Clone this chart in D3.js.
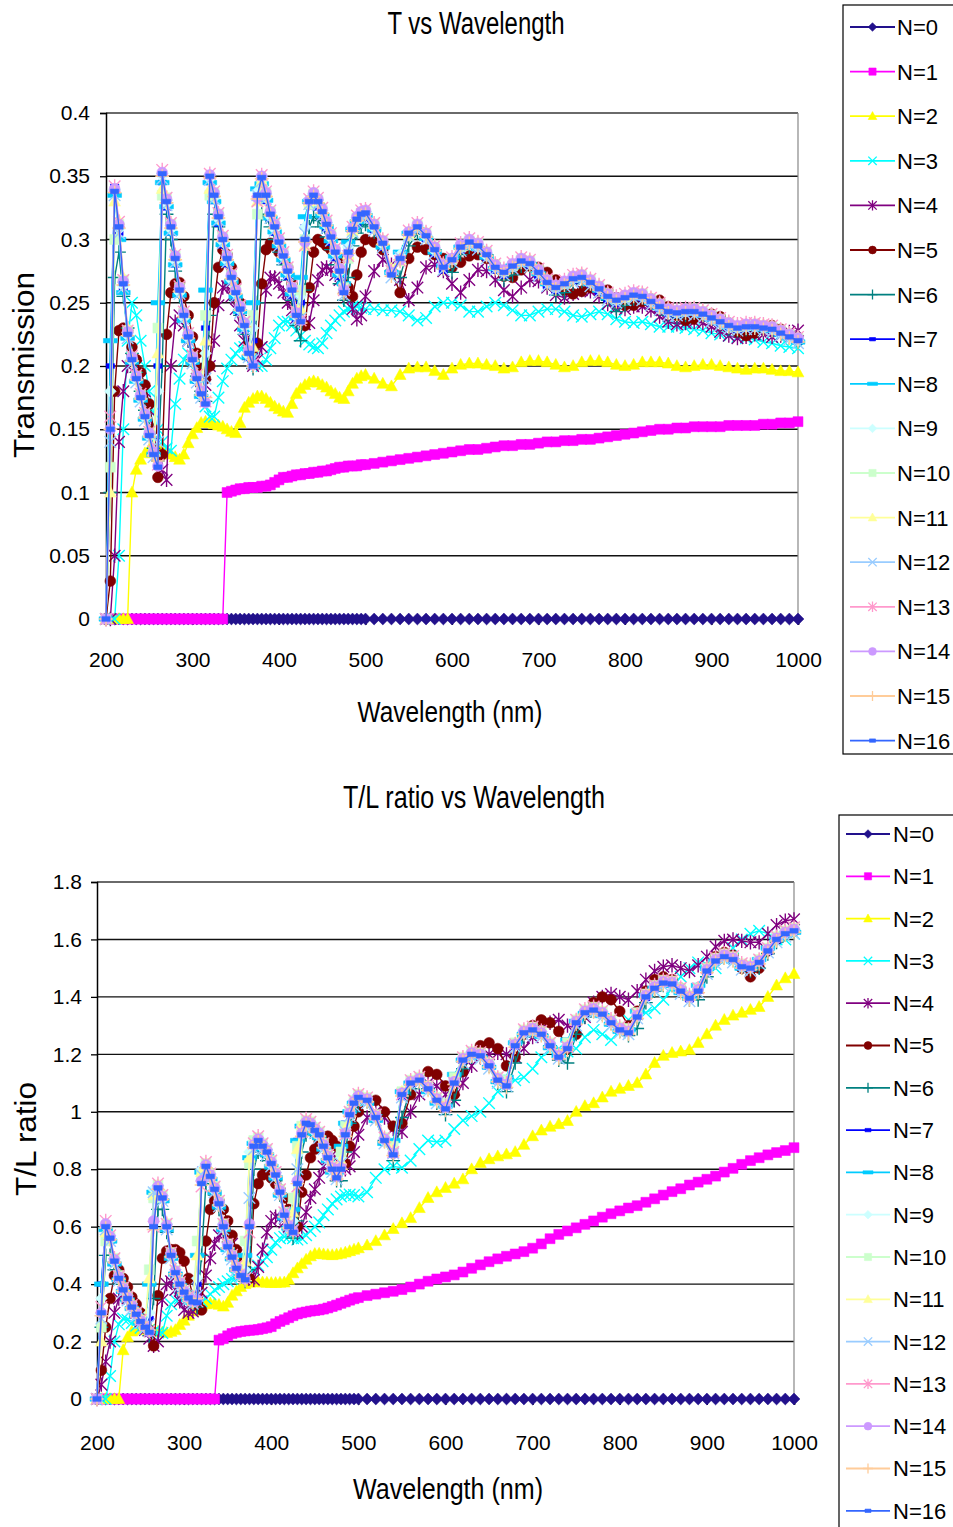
<!DOCTYPE html>
<html><head><meta charset="utf-8">
<script src="https://cdn.jsdelivr.net/npm/d3@7/dist/d3.min.js"></script>
<style>body{margin:0;background:#fff}svg{display:block}text{font-family:"Liberation Sans",Arial,sans-serif;fill:#000}</style>
</head><body>
<svg id="c" width="953" height="1527"></svg>
<script>
// ---------------- DATA ----------------
const wavelength = [200,205,210,215,220,225,230,235,240,245,250,255,260,265,270,275,280,285,290,295,
300,305,310,315,320,325,330,335,340,345,350,355,360,365,370,375,380,385,390,395,
400,405,410,415,420,425,430,435,440,445,450,455,460,465,470,475,480,485,490,495,
500,510,520,530,540,550,560,570,580,590,600,610,620,630,640,650,660,670,680,690,
700,710,720,730,740,750,760,770,780,790,800,810,820,830,840,850,860,870,880,890,
900,910,920,930,940,950,960,970,980,990,1000];
const seriesNames = ["N=0","N=1","N=2","N=3","N=4","N=5","N=6","N=7","N=8","N=9","N=10","N=11","N=12","N=13","N=14","N=15","N=16"];
const xTicks = [200,300,400,500,600,700,800,900,1000];
const yTicksT = [0,0.05,0.1,0.15,0.2,0.25,0.3,0.35,0.4];
const yLabelsT = ["0","0.05","0.1","0.15","0.2","0.25","0.3","0.35","0.4"];
const yTicksR = [0,0.2,0.4,0.6,0.8,1,1.2,1.4,1.6,1.8];
const yLabelsR = ["0","0.2","0.4","0.6","0.8","1","1.2","1.4","1.6","1.8"];

// Transmission
const T_N0 = [0,0,0,0,0,0,0,0,0,0,0,0,0,0,0,0,0,0,0,0,0,0,0,0,0,0,0,0,0,0,0,0,0,0,0,0,0,0,0,0,0,0,0,0,0,0,0,0,0,0,0,0,0,0,0,0,0,0,0,0,
0,0,0,0,0,0,0,0,0,0,0,0,0,0,0,0,0,0,0,0,0,0,0,0,0,0,0,0,0,0,0,0,0,0,0,0,0,0,0,0,0,0,0,0,0,0,0,0,0,0,0];
const T_N1 = [0,0,0,0,0,0,0,0,0,0, 0,0,0,0,0,0,0,0,0,0, 0,0,0,0,0,0,0,0,0.100,0.101,
0.102,0.103,0.103,0.104,0.104,0.104,0.105,0.105,0.106,0.108, 0.110,0.112,0.112,0.113,0.114,0.114,0.115,0.115,0.116,0.116,
0.117,0.117,0.118,0.119,0.120,0.120,0.121,0.121,0.121,0.122,
0.122,0.123,0.124,0.125,0.126,0.127,0.128,0.129,0.130,0.131, 0.132,0.133,0.134,0.134,0.135,0.136,0.137,0.137,0.138,0.138,
0.139,0.140,0.140,0.141,0.141,0.142,0.142,0.143,0.144,0.145, 0.146,0.147,0.148,0.149,0.150,0.150,0.151,0.151,0.152,0.152,
0.152,0.152,0.153,0.153,0.153,0.153,0.154,0.154,0.155,0.155,0.156];
const T_N2 = [0,0,0,0,0,0,0.100,0.118,0.126,0.131, 0.134,0.136,0.135,0.134,0.132,0.130,0.128,0.126,0.130,0.139,
0.146,0.151,0.155,0.156,0.155,0.154,0.153,0.152,0.150,0.148, 0.147,0.155,0.167,0.171,0.174,0.176,0.176,0.174,0.171,0.168,
0.166,0.164,0.163,0.170,0.178,0.182,0.185,0.187,0.188,0.187, 0.185,0.183,0.180,0.178,0.175,0.174,0.180,0.186,0.190,0.192,
0.193,0.190,0.186,0.184,0.193,0.198,0.199,0.199,0.196,0.193, 0.198,0.201,0.202,0.202,0.201,0.200,0.198,0.199,0.203,0.204,
0.204,0.203,0.201,0.199,0.200,0.203,0.204,0.204,0.203,0.201, 0.200,0.201,0.203,0.203,0.203,0.202,0.200,0.199,0.200,0.201,
0.201,0.200,0.199,0.198,0.197,0.198,0.198,0.197,0.196,0.196,0.195];
const T_N3 = [0,0,0,0.05,0.15,0.22,0.25,0.24,0.22,0.20, 0.18,0.163,0.15,0.14,0.135,0.133,0.17,0.19,0.205,0.21,
0.205,0.195,0.18,0.168,0.16,0.16,0.175,0.188,0.198,0.205, 0.21,0.214,0.215,0.212,0.207,0.2,0.2,0.205,0.214,0.222,
0.232,0.235,0.235,0.232,0.228,0.224,0.22,0.217,0.215,0.214, 0.218,0.226,0.232,0.236,0.24,0.243,0.245,0.247,0.247,0.246,
0.245,0.245,0.244,0.244,0.243,0.24,0.236,0.238,0.247,0.25, 0.25,0.248,0.243,0.243,0.247,0.25,0.248,0.244,0.24,0.24,
0.243,0.245,0.245,0.243,0.24,0.239,0.241,0.243,0.241,0.237, 0.235,0.234,0.235,0.233,0.231,0.231,0.231,0.23,0.229,0.228,
0.226,0.225,0.224,0.223,0.222,0.221,0.219,0.218,0.216,0.215,0.214];
const T_N4 = [0,0,0.05,0.14,0.18,0.2,0.205,0.2,0.19,0.18, 0.165,0.145,0.13,0.118,0.11,0.2,0.235,0.24,0.232,0.22,
0.208,0.198,0.188,0.185,0.2,0.22,0.248,0.262,0.263,0.255, 0.245,0.232,0.22,0.21,0.2,0.205,0.215,0.26,0.27,0.27,
0.265,0.258,0.25,0.244,0.238,0.235,0.233,0.234,0.252,0.268, 0.276,0.278,0.276,0.272,0.268,0.262,0.255,0.245,0.237,0.24,
0.255,0.275,0.284,0.28,0.268,0.252,0.262,0.278,0.28,0.275, 0.265,0.258,0.268,0.276,0.275,0.268,0.26,0.255,0.262,0.268,
0.267,0.262,0.256,0.254,0.257,0.26,0.259,0.255,0.249,0.246, 0.245,0.247,0.247,0.244,0.239,0.235,0.233,0.234,0.235,0.234,
0.231,0.227,0.224,0.222,0.223,0.225,0.225,0.223,0.224,0.227,0.228];
const T_N5 = [0,0.03,0.18,0.228,0.23,0.228,0.215,0.205,0.195,0.185, 0.17,0.15,0.112,0.13,0.225,0.258,0.265,0.266,0.255,0.24,
0.223,0.21,0.198,0.19,0.2,0.25,0.278,0.292,0.288,0.278, 0.266,0.25,0.232,0.218,0.214,0.218,0.265,0.292,0.297,0.295,
0.29,0.285,0.278,0.265,0.25,0.236,0.232,0.262,0.29,0.3, 0.298,0.295,0.292,0.288,0.285,0.275,0.262,0.255,0.272,0.29,
0.30,0.298,0.292,0.275,0.258,0.285,0.294,0.292,0.288,0.285, 0.278,0.282,0.287,0.288,0.285,0.28,0.271,0.27,0.276,0.279,
0.278,0.274,0.268,0.26,0.257,0.259,0.262,0.262,0.26,0.254, 0.248,0.248,0.251,0.253,0.252,0.247,0.24,0.236,0.237,0.24,
0.241,0.239,0.234,0.227,0.224,0.226,0.23,0.232,0.229,0.225,0.22];
const T_N6 = [0,0.1,0.27,0.29,0.255,0.23,0.21,0.195,0.18,0.165, 0.15,0.135,0.125,0.2,0.32,0.3,0.275,0.255,0.235,0.22,
0.205,0.192,0.18,0.172,0.24,0.32,0.31,0.295,0.28,0.265, 0.252,0.24,0.225,0.205,0.198,0.25,0.32,0.318,0.31,0.3,
0.29,0.28,0.268,0.252,0.232,0.22,0.26,0.31,0.318,0.315, 0.31,0.302,0.292,0.28,0.265,0.252,0.27,0.295,0.305,0.31,
0.312,0.306,0.295,0.275,0.27,0.295,0.305,0.302,0.292,0.277, 0.274,0.288,0.294,0.293,0.288,0.278,0.268,0.272,0.279,0.279,
0.274,0.265,0.256,0.258,0.265,0.267,0.265,0.26,0.252,0.243, 0.248,0.253,0.254,0.25,0.245,0.24,0.238,0.24,0.242,0.24,
0.237,0.233,0.229,0.228,0.229,0.23,0.229,0.228,0.225,0.222,0.219];
const T_N7 = [0,0.2,0.342,0.305,0.26,0.225,0.205,0.19,0.175,0.16, 0.145,0.132,0.2,0.345,0.325,0.305,0.28,0.258,0.238,0.22,
0.203,0.188,0.176,0.23,0.345,0.33,0.312,0.295,0.28,0.266, 0.254,0.242,0.228,0.206,0.22,0.338,0.342,0.33,0.316,0.305,
0.294,0.283,0.27,0.255,0.236,0.25,0.31,0.326,0.328,0.325, 0.318,0.308,0.297,0.285,0.27,0.262,0.292,0.305,0.312,0.316,
0.317,0.307,0.293,0.274,0.282,0.302,0.307,0.3,0.288,0.275, 0.282,0.291,0.295,0.292,0.285,0.275,0.271,0.277,0.281,0.279,
0.271,0.263,0.259,0.263,0.267,0.268,0.264,0.258,0.252,0.249, 0.252,0.254,0.253,0.249,0.245,0.241,0.24,0.241,0.242,0.24,
0.237,0.233,0.23,0.228,0.229,0.23,0.229,0.228,0.225,0.222,0.219];
const T_N8 = [0,0.22,0.335,0.3,0.258,0.222,0.203,0.188,0.173,0.158, 0.143,0.13,0.25,0.345,0.326,0.305,0.28,0.256,0.236,0.22,
0.203,0.188,0.176,0.26,0.345,0.33,0.313,0.296,0.281,0.267, 0.255,0.243,0.229,0.207,0.25,0.34,0.344,0.331,0.317,0.306,
0.295,0.284,0.272,0.257,0.238,0.27,0.318,0.33,0.331,0.327, 0.319,0.31,0.299,0.287,0.272,0.265,0.298,0.308,0.314,0.318,
0.319,0.308,0.294,0.274,0.29,0.305,0.308,0.301,0.29,0.279, 0.286,0.294,0.296,0.293,0.286,0.277,0.274,0.279,0.282,0.28,
0.273,0.265,0.262,0.265,0.268,0.269,0.265,0.26,0.254,0.252, 0.254,0.255,0.254,0.25,0.246,0.243,0.242,0.243,0.242,0.24,
0.237,0.234,0.231,0.23,0.23,0.23,0.229,0.228,0.225,0.222,0.219];
const T_N9 = [0,0.18,0.34,0.308,0.263,0.224,0.204,0.189,0.174,0.159, 0.144,0.13,0.18,0.35,0.328,0.308,0.283,0.258,0.238,0.222,
0.204,0.189,0.177,0.21,0.348,0.333,0.316,0.298,0.283,0.268, 0.257,0.244,0.231,0.208,0.23,0.338,0.347,0.333,0.318,0.308,
0.297,0.286,0.274,0.259,0.239,0.255,0.31,0.332,0.334,0.329, 0.321,0.311,0.301,0.289,0.274,0.261,0.294,0.309,0.316,0.32,
0.32,0.309,0.296,0.273,0.288,0.306,0.31,0.302,0.291,0.279, 0.285,0.294,0.297,0.294,0.287,0.278,0.274,0.279,0.283,0.281,
0.274,0.266,0.262,0.265,0.269,0.27,0.266,0.261,0.255,0.252, 0.254,0.256,0.255,0.251,0.247,0.243,0.242,0.243,0.243,0.241,
0.238,0.235,0.232,0.23,0.231,0.231,0.23,0.229,0.226,0.223,0.22];
const T_N10 = [0,0.12,0.3,0.312,0.268,0.228,0.207,0.192,0.177,0.162, 0.147,0.132,0.23,0.335,0.333,0.312,0.287,0.262,0.242,0.225,
0.207,0.192,0.18,0.24,0.335,0.337,0.32,0.302,0.287,0.272, 0.26,0.247,0.234,0.212,0.24,0.32,0.345,0.337,0.322,0.312,
0.3,0.289,0.277,0.262,0.243,0.26,0.3,0.328,0.336,0.331, 0.323,0.314,0.304,0.292,0.277,0.262,0.285,0.306,0.317,0.321,
0.322,0.312,0.299,0.276,0.283,0.303,0.311,0.305,0.294,0.28, 0.284,0.294,0.299,0.297,0.29,0.28,0.275,0.279,0.284,0.283,
0.276,0.268,0.263,0.265,0.27,0.272,0.268,0.263,0.257,0.253, 0.254,0.257,0.257,0.253,0.249,0.245,0.243,0.244,0.245,0.243,
0.24,0.237,0.234,0.231,0.232,0.233,0.232,0.231,0.228,0.225,0.222];
const T_N11 = [0,0.1,0.33,0.315,0.27,0.23,0.208,0.193,0.178,0.163, 0.148,0.133,0.21,0.34,0.334,0.313,0.288,0.263,0.243,0.226,
0.208,0.193,0.181,0.22,0.34,0.338,0.321,0.303,0.288,0.273, 0.261,0.248,0.235,0.213,0.215,0.33,0.346,0.338,0.323,0.313,
0.301,0.29,0.278,0.263,0.244,0.245,0.295,0.33,0.337,0.332, 0.324,0.315,0.305,0.293,0.278,0.262,0.288,0.307,0.318,0.322,
0.323,0.313,0.3,0.277,0.284,0.304,0.312,0.306,0.295,0.281, 0.285,0.295,0.3,0.298,0.291,0.281,0.276,0.28,0.285,0.284,
0.277,0.269,0.264,0.266,0.271,0.273,0.269,0.264,0.258,0.254, 0.255,0.258,0.258,0.254,0.25,0.246,0.244,0.245,0.246,0.244,
0.241,0.238,0.235,0.232,0.233,0.234,0.233,0.232,0.229,0.226,0.223];
const T_N12 = [0,0.14,0.335,0.305,0.262,0.222,0.202,0.187,0.172,0.157, 0.142,0.128,0.14,0.348,0.327,0.307,0.282,0.257,0.237,0.22,
0.202,0.187,0.175,0.19,0.347,0.332,0.315,0.297,0.282,0.267, 0.255,0.242,0.229,0.207,0.205,0.335,0.346,0.332,0.317,0.307,
0.295,0.284,0.272,0.257,0.237,0.238,0.305,0.328,0.332,0.327, 0.319,0.309,0.299,0.287,0.272,0.256,0.292,0.306,0.313,0.317,
0.318,0.307,0.294,0.27,0.286,0.303,0.307,0.3,0.289,0.276, 0.282,0.291,0.295,0.292,0.285,0.276,0.272,0.277,0.28,0.278,
0.271,0.263,0.26,0.263,0.266,0.267,0.263,0.258,0.252,0.25, 0.252,0.253,0.252,0.248,0.244,0.24,0.24,0.241,0.24,0.238,
0.235,0.232,0.229,0.228,0.229,0.229,0.228,0.227,0.224,0.221,0.218];
const T_N13 = [0,0.16,0.342,0.314,0.268,0.228,0.208,0.193,0.178,0.163, 0.148,0.133,0.122,0.355,0.333,0.313,0.288,0.263,0.243,0.226,
0.208,0.193,0.181,0.172,0.352,0.338,0.321,0.303,0.288,0.273, 0.261,0.248,0.235,0.213,0.202,0.33,0.351,0.338,0.323,0.313,
0.301,0.29,0.278,0.263,0.243,0.236,0.295,0.332,0.338,0.333, 0.325,0.315,0.305,0.293,0.278,0.26,0.287,0.31,0.319,0.323,
0.324,0.313,0.3,0.275,0.283,0.307,0.313,0.306,0.295,0.281, 0.286,0.297,0.301,0.298,0.291,0.281,0.277,0.282,0.286,0.284,
0.277,0.269,0.265,0.268,0.272,0.273,0.269,0.264,0.258,0.255, 0.257,0.259,0.258,0.254,0.25,0.246,0.245,0.246,0.246,0.244,
0.241,0.238,0.235,0.233,0.234,0.234,0.233,0.232,0.229,0.226,0.223];
const T_N14 = [0,0.15,0.34,0.312,0.267,0.227,0.207,0.192,0.177,0.162, 0.147,0.132,0.121,0.353,0.332,0.312,0.287,0.262,0.242,0.225,
0.207,0.192,0.18,0.171,0.351,0.337,0.32,0.302,0.287,0.272, 0.26,0.247,0.234,0.212,0.201,0.333,0.35,0.337,0.322,0.312,
0.3,0.289,0.277,0.262,0.242,0.236,0.298,0.331,0.337,0.332, 0.324,0.314,0.304,0.292,0.277,0.26,0.289,0.309,0.318,0.322,
0.323,0.312,0.299,0.274,0.284,0.306,0.312,0.305,0.294,0.28, 0.285,0.296,0.3,0.297,0.29,0.28,0.276,0.281,0.285,0.283,
0.276,0.268,0.264,0.267,0.271,0.272,0.268,0.263,0.257,0.254, 0.256,0.258,0.257,0.253,0.249,0.245,0.244,0.245,0.245,0.243,
0.24,0.237,0.234,0.232,0.233,0.233,0.232,0.231,0.228,0.225,0.222];
const T_N15 = [0,0.15,0.337,0.309,0.264,0.224,0.204,0.189,0.174,0.159, 0.144,0.129,0.125,0.35,0.329,0.309,0.284,0.259,0.239,0.222,
0.204,0.189,0.177,0.175,0.349,0.334,0.317,0.299,0.284,0.269, 0.257,0.244,0.231,0.209,0.2,0.332,0.348,0.334,0.319,0.309,
0.297,0.286,0.274,0.259,0.239,0.234,0.298,0.329,0.334,0.329, 0.321,0.311,0.301,0.289,0.274,0.257,0.289,0.307,0.315,0.319,
0.32,0.309,0.296,0.271,0.284,0.304,0.309,0.302,0.291,0.277, 0.283,0.293,0.297,0.294,0.287,0.277,0.273,0.278,0.282,0.28,
0.273,0.265,0.261,0.264,0.268,0.269,0.265,0.26,0.254,0.251, 0.253,0.255,0.254,0.25,0.246,0.242,0.241,0.242,0.242,0.24,
0.237,0.234,0.231,0.229,0.23,0.23,0.229,0.228,0.225,0.222,0.219];
const T_N16 = [0,0.15,0.338,0.31,0.265,0.225,0.205,0.19,0.175,0.16, 0.145,0.13,0.12,0.352,0.33,0.31,0.285,0.26,0.24,0.223,
0.205,0.19,0.178,0.17,0.35,0.335,0.318,0.3,0.285,0.27, 0.258,0.245,0.232,0.21,0.2,0.335,0.349,0.335,0.32,0.31,
0.298,0.287,0.275,0.26,0.24,0.235,0.3,0.33,0.335,0.33, 0.322,0.312,0.302,0.29,0.275,0.258,0.29,0.308,0.316,0.32,
0.321,0.31,0.297,0.272,0.285,0.305,0.31,0.303,0.292,0.278, 0.284,0.294,0.298,0.295,0.288,0.278,0.274,0.279,0.283,0.281,
0.274,0.266,0.262,0.265,0.269,0.27,0.266,0.261,0.255,0.252, 0.254,0.256,0.255,0.251,0.247,0.243,0.242,0.243,0.243,0.241,
0.238,0.235,0.232,0.23,0.231,0.231,0.23,0.229,0.226,0.223,0.22];

// T/L ratio
const TL_N0 = [0,0,0,0,0,0,0,0,0,0,0,0,0,0,0,0,0,0,0,0,0,0,0,0,0,0,0,0,0,0,0,0,0,0,0,0,0,0,0,0,0,0,0,0,0,0,0,0,0,0,0,0,0,0,0,0,0,0,0,0,
0,0,0,0,0,0,0,0,0,0,0,0,0,0,0,0,0,0,0,0,0,0,0,0,0,0,0,0,0,0,0,0,0,0,0,0,0,0,0,0,0,0,0,0,0,0,0,0,0,0,0];
const TL_N1 = [0,0,0,0,0,0,0,0,0,0, 0,0,0,0,0,0,0,0,0,0, 0,0,0,0,0,0,0,0,0.205,0.21,
0.22,0.228,0.232,0.235,0.237,0.239,0.24,0.242,0.245,0.248, 0.252,0.262,0.27,0.276,0.283,0.29,0.296,0.3,0.303,0.306,
0.308,0.31,0.313,0.317,0.322,0.327,0.333,0.338,0.344,0.349,
0.353,0.36,0.365,0.37,0.375,0.381,0.39,0.4,0.41,0.418, 0.425,0.432,0.442,0.455,0.467,0.478,0.488,0.497,0.505,0.513,
0.525,0.54,0.558,0.573,0.585,0.596,0.608,0.62,0.633,0.645, 0.655,0.665,0.673,0.685,0.697,0.71,0.722,0.732,0.745,0.755,
0.765,0.776,0.79,0.803,0.817,0.83,0.84,0.85,0.858,0.865,0.875];
const TL_N2 = [0,0,0,0,0,0,0.17,0.215,0.235,0.24, 0.242,0.242,0.24,0.238,0.235,0.232,0.23,0.234,0.24,0.258,
0.273,0.29,0.305,0.318,0.325,0.33,0.333,0.332,0.328,0.322, 0.335,0.36,0.375,0.39,0.4,0.405,0.407,0.407,0.406,0.405,
0.404,0.404,0.405,0.406,0.415,0.438,0.455,0.47,0.485,0.497, 0.505,0.506,0.504,0.502,0.501,0.503,0.506,0.51,0.515,0.52,
0.525,0.535,0.55,0.57,0.592,0.612,0.63,0.665,0.7,0.72, 0.735,0.75,0.765,0.8,0.822,0.835,0.845,0.852,0.86,0.885,
0.915,0.935,0.948,0.957,0.968,1.0,1.02,1.03,1.05,1.07, 1.08,1.09,1.1,1.13,1.17,1.195,1.205,1.21,1.215,1.24,
1.27,1.3,1.32,1.335,1.345,1.355,1.365,1.4,1.44,1.465,1.48];
const TL_N3 = [0,0,0,0.08,0.2,0.26,0.28,0.275,0.265,0.255, 0.248,0.243,0.24,0.235,0.232,0.23,0.29,0.33,0.345,0.35,
0.35,0.345,0.34,0.338,0.34,0.35,0.365,0.38,0.39,0.4, 0.41,0.418,0.424,0.43,0.435,0.44,0.45,0.465,0.48,0.494,
0.52,0.545,0.56,0.565,0.565,0.56,0.555,0.56,0.57,0.585, 0.6,0.615,0.64,0.66,0.68,0.695,0.705,0.71,0.712,0.71,
0.705,0.72,0.77,0.8,0.81,0.805,0.83,0.87,0.9,0.895, 0.9,0.94,0.97,0.985,1.0,1.03,1.07,1.1,1.11,1.12,
1.15,1.19,1.215,1.22,1.21,1.22,1.26,1.285,1.27,1.25, 1.28,1.32,1.34,1.345,1.36,1.39,1.43,1.47,1.5,1.52,
1.51,1.5,1.53,1.57,1.6,1.62,1.63,1.62,1.6,1.6,1.62];
const TL_N4 = [0,0.05,0.13,0.2,0.3,0.35,0.36,0.35,0.33,0.3, 0.27,0.24,0.21,0.185,0.2,0.345,0.4,0.41,0.38,0.34,
0.31,0.3,0.305,0.318,0.37,0.43,0.49,0.54,0.57,0.58, 0.565,0.54,0.5,0.46,0.435,0.42,0.415,0.46,0.52,0.58,
0.62,0.635,0.63,0.615,0.6,0.585,0.578,0.6,0.65,0.7, 0.73,0.77,0.81,0.835,0.85,0.84,0.82,0.8,0.81,0.86,
0.92,0.98,1.0,0.98,0.94,0.93,1.0,1.06,1.1,1.09, 1.06,1.04,1.1,1.16,1.19,1.2,1.205,1.2,1.19,1.22,
1.26,1.29,1.31,1.32,1.3,1.29,1.33,1.38,1.4,1.41, 1.4,1.39,1.42,1.46,1.49,1.505,1.51,1.5,1.49,1.51,
1.54,1.575,1.595,1.6,1.595,1.59,1.59,1.62,1.65,1.665,1.67];
const TL_N5 = [0,0.1,0.25,0.35,0.43,0.45,0.42,0.39,0.355,0.33, 0.3,0.27,0.24,0.185,0.36,0.49,0.515,0.52,0.52,0.51,
0.48,0.42,0.36,0.33,0.31,0.55,0.66,0.69,0.69,0.66, 0.62,0.57,0.52,0.48,0.455,0.42,0.68,0.75,0.78,0.785,
0.77,0.75,0.73,0.7,0.66,0.63,0.6,0.72,0.78,0.84, 0.87,0.895,0.91,0.915,0.9,0.88,0.84,0.82,0.88,0.95,
1.0,1.04,1.04,1.0,0.95,0.96,1.06,1.11,1.14,1.13, 1.09,1.06,1.14,1.2,1.23,1.24,1.22,1.16,1.19,1.27,
1.3,1.32,1.31,1.28,1.22,1.27,1.34,1.38,1.4,1.39, 1.35,1.3,1.35,1.42,1.46,1.47,1.46,1.43,1.4,1.43,
1.5,1.54,1.555,1.545,1.5,1.47,1.5,1.56,1.6,1.62,1.63];
const TL_N6 = [0,0.25,0.5,0.5,0.45,0.4,0.37,0.345,0.315,0.29, 0.265,0.245,0.22,0.35,0.66,0.66,0.58,0.5,0.44,0.395,
0.365,0.345,0.33,0.32,0.5,0.75,0.75,0.71,0.66,0.59, 0.52,0.485,0.45,0.425,0.41,0.45,0.8,0.86,0.85,0.83,
0.8,0.76,0.71,0.64,0.59,0.56,0.62,0.86,0.92,0.93, 0.92,0.905,0.875,0.835,0.795,0.76,0.76,0.86,0.96,1.0,
1.03,1.035,0.99,0.9,0.83,0.98,1.08,1.1,1.08,1.03, 0.99,1.04,1.15,1.19,1.19,1.16,1.1,1.07,1.17,1.26,
1.28,1.27,1.23,1.18,1.17,1.27,1.33,1.35,1.34,1.31, 1.28,1.265,1.29,1.38,1.42,1.44,1.44,1.42,1.39,1.39,
1.47,1.52,1.535,1.53,1.5,1.49,1.5,1.55,1.59,1.615,1.625];
const TL_N7 = [0,0.4,0.61,0.55,0.47,0.415,0.375,0.347,0.318,0.292, 0.268,0.248,0.28,0.7,0.725,0.69,0.59,0.495,0.435,0.397,
0.37,0.35,0.337,0.4,0.8,0.8,0.765,0.72,0.67,0.595, 0.525,0.49,0.452,0.428,0.45,0.82,0.89,0.89,0.87,0.85,
0.81,0.77,0.71,0.635,0.598,0.65,0.9,0.95,0.955,0.95, 0.93,0.915,0.875,0.835,0.795,0.78,0.86,0.96,1.0,1.03,
1.045,1.035,0.975,0.89,0.88,1.05,1.095,1.105,1.075,1.035, 1.02,1.1,1.175,1.195,1.19,1.155,1.105,1.1,1.225,1.27,
1.28,1.265,1.225,1.19,1.23,1.305,1.34,1.35,1.335,1.305, 1.28,1.28,1.33,1.395,1.425,1.443,1.44,1.415,1.39,1.42,
1.485,1.52,1.535,1.525,1.5,1.497,1.518,1.555,1.595,1.615,1.625];
const TL_N8 = [0,0.4,0.59,0.55,0.47,0.415,0.375,0.345,0.315,0.29, 0.265,0.245,0.4,0.72,0.72,0.69,0.59,0.49,0.435,0.395,
0.368,0.348,0.335,0.5,0.79,0.79,0.765,0.72,0.67,0.59, 0.52,0.488,0.45,0.425,0.5,0.84,0.89,0.89,0.87,0.85,
0.81,0.77,0.71,0.63,0.595,0.66,0.9,0.95,0.955,0.945, 0.925,0.91,0.87,0.83,0.79,0.79,0.88,0.96,1.0,1.03,
1.045,1.03,0.97,0.89,0.9,1.07,1.1,1.1,1.07,1.03, 1.02,1.13,1.18,1.195,1.19,1.155,1.105,1.12,1.24,1.27,
1.28,1.262,1.223,1.195,1.25,1.315,1.342,1.35,1.335,1.305, 1.28,1.285,1.35,1.405,1.43,1.445,1.44,1.415,1.395,1.44,
1.5,1.525,1.535,1.525,1.5,1.5,1.53,1.57,1.6,1.615,1.625];
const TL_N9 = [0,0.35,0.6,0.555,0.475,0.418,0.378,0.348,0.318,0.293, 0.268,0.248,0.3,0.73,0.73,0.695,0.595,0.495,0.438,0.398,
0.37,0.35,0.336,0.42,0.8,0.8,0.77,0.725,0.675,0.595, 0.525,0.49,0.452,0.428,0.45,0.86,0.895,0.895,0.875,0.855,
0.815,0.775,0.715,0.635,0.598,0.62,0.85,0.94,0.958,0.95, 0.93,0.915,0.875,0.835,0.795,0.78,0.84,0.94,0.995,1.03,
1.048,1.036,0.976,0.896,0.87,1.065,1.1,1.106,1.076,1.036, 1.015,1.11,1.18,1.198,1.192,1.158,1.108,1.1,1.235,1.273,
1.283,1.267,1.228,1.19,1.23,1.312,1.344,1.352,1.338,1.308, 1.283,1.278,1.34,1.402,1.43,1.447,1.443,1.418,1.394,1.43,
1.495,1.525,1.538,1.528,1.503,1.5,1.525,1.565,1.6,1.618,1.628];
const TL_N10 = [0,0.25,0.55,0.565,0.49,0.43,0.388,0.356,0.325,0.3, 0.275,0.254,0.45,0.7,0.745,0.71,0.61,0.51,0.448,0.406,
0.376,0.356,0.342,0.55,0.78,0.82,0.785,0.74,0.69,0.61, 0.54,0.5,0.46,0.436,0.55,0.82,0.9,0.91,0.89,0.87,
0.83,0.79,0.73,0.65,0.606,0.7,0.88,0.95,0.97,0.965, 0.945,0.93,0.89,0.85,0.81,0.79,0.86,0.95,1.0,1.04,
1.06,1.05,0.99,0.91,0.88,1.07,1.11,1.12,1.09,1.05, 1.03,1.12,1.19,1.21,1.205,1.17,1.12,1.11,1.24,1.285,
1.295,1.28,1.24,1.2,1.24,1.32,1.355,1.364,1.35,1.32, 1.295,1.29,1.345,1.41,1.44,1.458,1.455,1.43,1.405,1.43,
1.5,1.535,1.55,1.54,1.515,1.51,1.53,1.57,1.61,1.63,1.64];
const TL_N11 = [0,0.2,0.58,0.57,0.49,0.43,0.39,0.358,0.327,0.302, 0.277,0.256,0.42,0.71,0.745,0.71,0.61,0.51,0.45,0.408,
0.378,0.357,0.343,0.5,0.79,0.82,0.785,0.74,0.69,0.61, 0.54,0.503,0.463,0.437,0.48,0.84,0.895,0.91,0.89,0.87,
0.83,0.79,0.73,0.65,0.608,0.65,0.87,0.955,0.97,0.965, 0.945,0.93,0.89,0.85,0.81,0.785,0.83,0.94,1.0,1.04,
1.06,1.05,0.99,0.91,0.87,1.07,1.11,1.12,1.09,1.05, 1.02,1.11,1.19,1.21,1.205,1.17,1.12,1.1,1.24,1.285,
1.295,1.28,1.24,1.2,1.23,1.32,1.355,1.364,1.35,1.32, 1.295,1.285,1.34,1.41,1.44,1.458,1.455,1.43,1.405,1.43,
1.5,1.535,1.55,1.54,1.515,1.51,1.53,1.57,1.61,1.63,1.64];
const TL_N12 = [0,0.28,0.59,0.55,0.47,0.412,0.372,0.343,0.313,0.288, 0.264,0.244,0.26,0.72,0.725,0.69,0.59,0.49,0.432,0.393,
0.366,0.346,0.332,0.36,0.78,0.8,0.765,0.72,0.67,0.59, 0.522,0.486,0.448,0.424,0.42,0.7,0.87,0.89,0.87,0.85,
0.81,0.77,0.71,0.63,0.592,0.59,0.8,0.93,0.95,0.945, 0.925,0.91,0.87,0.83,0.79,0.765,0.82,0.93,0.985,1.02,
1.04,1.03,0.97,0.89,0.855,1.05,1.09,1.1,1.07,1.03, 1.005,1.1,1.17,1.19,1.185,1.15,1.1,1.09,1.225,1.265,
1.275,1.26,1.22,1.185,1.225,1.3,1.335,1.344,1.33,1.3, 1.275,1.27,1.325,1.39,1.42,1.438,1.435,1.41,1.385,1.415,
1.48,1.515,1.53,1.52,1.495,1.49,1.515,1.555,1.59,1.61,1.62];
const TL_N13 = [0,0.32,0.62,0.57,0.49,0.428,0.388,0.357,0.327,0.301, 0.276,0.255,0.236,0.6,0.75,0.71,0.61,0.51,0.448,0.407,
0.378,0.357,0.343,0.34,0.74,0.825,0.785,0.74,0.69,0.61, 0.54,0.502,0.462,0.437,0.421,0.58,0.89,0.915,0.89,0.87,
0.83,0.79,0.73,0.65,0.608,0.588,0.74,0.93,0.975,0.965, 0.945,0.93,0.89,0.85,0.81,0.78,0.8,0.92,1.0,1.04,
1.062,1.05,0.99,0.91,0.86,1.06,1.11,1.122,1.09,1.05, 1.02,1.1,1.19,1.212,1.207,1.17,1.12,1.1,1.235,1.287,
1.297,1.282,1.24,1.2,1.225,1.32,1.357,1.366,1.352,1.322, 1.297,1.287,1.34,1.41,1.442,1.46,1.457,1.432,1.407,1.43,
1.5,1.537,1.552,1.542,1.517,1.512,1.53,1.57,1.61,1.632,1.642];
const TL_N14 = [0,0.3,0.61,0.565,0.485,0.425,0.385,0.354,0.324,0.298, 0.273,0.253,0.234,0.62,0.74,0.705,0.605,0.505,0.445,0.404,
0.375,0.355,0.341,0.345,0.76,0.815,0.78,0.735,0.685,0.605, 0.535,0.498,0.459,0.434,0.418,0.61,0.885,0.905,0.885,0.865,
0.825,0.785,0.725,0.645,0.604,0.585,0.76,0.925,0.965,0.96, 0.94,0.925,0.885,0.845,0.805,0.775,0.805,0.925,0.995,1.035,
1.055,1.045,0.985,0.905,0.855,1.065,1.105,1.115,1.085,1.045, 1.015,1.105,1.185,1.205,1.2,1.165,1.115,1.095,1.235,1.28,
1.29,1.275,1.235,1.195,1.225,1.315,1.35,1.359,1.345,1.315, 1.29,1.28,1.335,1.405,1.435,1.453,1.45,1.425,1.4,1.425,
1.495,1.53,1.545,1.535,1.51,1.505,1.525,1.565,1.605,1.625,1.635];
const TL_N15 = [0,0.29,0.595,0.555,0.476,0.417,0.377,0.347,0.317,0.292, 0.267,0.247,0.24,0.59,0.73,0.695,0.595,0.495,0.436,0.397,
0.369,0.349,0.335,0.35,0.745,0.805,0.77,0.725,0.675,0.595, 0.526,0.49,0.451,0.427,0.412,0.6,0.875,0.895,0.875,0.855,
0.815,0.775,0.715,0.635,0.596,0.578,0.75,0.915,0.955,0.95, 0.93,0.915,0.875,0.835,0.795,0.766,0.8,0.915,0.985,1.025,
1.045,1.035,0.975,0.895,0.848,1.055,1.095,1.105,1.075,1.035, 1.005,1.095,1.175,1.195,1.19,1.155,1.105,1.085,1.225,1.27,
1.28,1.265,1.225,1.185,1.215,1.305,1.34,1.349,1.335,1.305, 1.28,1.27,1.325,1.395,1.425,1.443,1.44,1.415,1.39,1.415,
1.485,1.52,1.535,1.525,1.5,1.495,1.515,1.555,1.595,1.615,1.625];
const TL_N16 = [0,0.3,0.6,0.56,0.48,0.42,0.38,0.35,0.32,0.295, 0.27,0.25,0.232,0.6,0.735,0.7,0.6,0.5,0.44,0.4,
0.372,0.352,0.338,0.335,0.75,0.81,0.775,0.73,0.68,0.6, 0.53,0.494,0.455,0.43,0.415,0.6,0.88,0.9,0.88,0.86,
0.82,0.78,0.72,0.64,0.6,0.58,0.75,0.92,0.96,0.955, 0.935,0.92,0.88,0.84,0.8,0.77,0.8,0.92,0.99,1.03,
1.05,1.04,0.98,0.9,0.85,1.06,1.1,1.11,1.08,1.04, 1.01,1.1,1.18,1.2,1.195,1.16,1.11,1.09,1.23,1.275,
1.285,1.27,1.23,1.19,1.22,1.31,1.345,1.354,1.34,1.31, 1.285,1.275,1.33,1.4,1.43,1.448,1.445,1.42,1.395,1.42,
1.49,1.525,1.54,1.53,1.505,1.5,1.52,1.56,1.6,1.62,1.63];

// ---------------- STYLE ----------------
const colors = ["#22118c","#ff00ff","#ffff00","#00ffff","#800080","#800000","#008080","#0000ff","#00ccff",
"#ccffff","#ccffcc","#ffff99","#99ccff","#ff99cc","#cc99ff","#ffcc99","#3366ff"];
const markerTypes = ["diamond","square","triangle","x","star","circle","plus","dash","longdash",
"diamond","square","triangle","x","star","circle","plus","dash"];
const markerDefs = {
  diamond:{d:"M0,-4.3L4.3,0L0,4.3L-4.3,0Z",fill:true},
  square:{d:"M-3.6,-3.6h7.2v7.2h-7.2Z",fill:true},
  triangle:{d:"M0,-4.6L4.3,3.3L-4.3,3.3Z",fill:true},
  x:{d:"M-4.2,-4.2L4.2,4.2M-4.2,4.2L4.2,-4.2",fill:false},
  star:{d:"M-4.2,-4.2L4.2,4.2M-4.2,4.2L4.2,-4.2M0,-5.2V5.2",fill:false},
  circle:{d:"M3.9,0A3.9,3.9 0 1 1 -3.9,0A3.9,3.9 0 1 1 3.9,0Z",fill:true},
  plus:{d:"M0,-5V5M-5,0H5",fill:false},
  dash:{d:"M-3,-1.7h6v3.4h-6Z",fill:true},
  longdash:{d:"M-5,-1.6h10v3.2h-10Z",fill:true}
};

const svg = d3.select("#c");

function drawChart(cfg) {
  const x = d3.scaleLinear().domain([200,1000]).range([cfg.left,cfg.right]);
  const y = d3.scaleLinear().domain([0,cfg.ymax]).range([cfg.bottom,cfg.top]);
  const g = svg.append("g");

  g.append("g").selectAll("line").data(cfg.yTicks.filter(v=>v>0)).join("line")
    .attr("x1",cfg.left).attr("x2",cfg.right).attr("y1",d=>y(d)).attr("y2",d=>y(d))
    .attr("stroke","#111").attr("stroke-width",1.4);
  g.append("line").attr("x1",cfg.left).attr("x2",cfg.right).attr("y1",cfg.top).attr("y2",cfg.top)
    .attr("stroke","#888").attr("stroke-width",1.2);
  g.append("line").attr("x1",cfg.right).attr("x2",cfg.right).attr("y1",cfg.top).attr("y2",cfg.bottom)
    .attr("stroke","#888").attr("stroke-width",1.2);

  const yAxis = d3.axisLeft(y).tickValues(cfg.yTicks).tickFormat((d,i)=>cfg.yLabels[i]).tickSizeOuter(0).tickSize(6).tickPadding(cfg.yPad);
  const ya = g.append("g").attr("transform",`translate(${cfg.left},0)`).call(yAxis);
  const xAxis = d3.axisBottom(x).tickValues(xTicks).tickFormat(d3.format("d")).tickSizeOuter(0).tickSize(6).tickPadding(cfg.xPad);
  const xa = g.append("g").attr("transform",`translate(0,${cfg.bottom})`).call(xAxis);
  [ya,xa].forEach(a=>{
    a.select(".domain").attr("stroke","#000").attr("stroke-width",1.5);
    a.selectAll(".tick line").attr("stroke","#000").attr("stroke-width",1.3);
    a.selectAll("text").attr("font-family","Liberation Sans, Arial, sans-serif").attr("font-size",21).attr("fill","#000");
  });

  const line = d3.line().x((d,i)=>x(wavelength[i])).y(d=>y(d));
  const ms = 1.38; // plot marker scale
  cfg.data.forEach((vals,si)=>{
    const col = colors[si], m = markerDefs[markerTypes[si]];
    const sg = g.append("g");
    sg.append("path").datum(vals).attr("d",line).attr("fill","none").attr("stroke",col).attr("stroke-width",1.4);
    sg.selectAll("path.m").data(vals).join("path").attr("class","m")
      .attr("transform",(d,i)=>`translate(${x(wavelength[i]).toFixed(2)},${y(d).toFixed(2)}) scale(${ms})`)
      .attr("d",m.d)
      .attr("fill",m.fill?col:"none").attr("stroke",col).attr("stroke-width",m.fill?0.4:1.0);
  });

  g.append("text").attr("x",cfg.titleX).attr("y",cfg.titleY).attr("text-anchor","middle")
    .attr("font-size",31).attr("textLength",cfg.titleLen).attr("lengthAdjust","spacingAndGlyphs").text(cfg.title);
  g.append("text").attr("x",cfg.xTitleX).attr("y",cfg.xTitleY).attr("text-anchor","middle")
    .attr("font-size",30).attr("textLength",cfg.xTitleLen).attr("lengthAdjust","spacingAndGlyphs").text("Wavelength (nm)");
  g.append("text").attr("transform",`translate(${cfg.yTitleX},${cfg.yTitleY}) rotate(-90)`).attr("text-anchor","middle")
    .attr("font-size",30).attr("textLength",cfg.yTitleLen).attr("lengthAdjust","spacingAndGlyphs").text(cfg.yTitle);

  const L = cfg.legend;
  g.append("rect").attr("x",L.x).attr("y",L.y).attr("width",L.w).attr("height",L.h)
    .attr("fill","#fff").attr("stroke","#000").attr("stroke-width",1.2);
  seriesNames.forEach((name,si)=>{
    const cy = L.first + si*L.step, col = colors[si], m = markerDefs[markerTypes[si]];
    g.append("line").attr("x1",L.lx0).attr("x2",L.lx1).attr("y1",cy).attr("y2",cy).attr("stroke",col).attr("stroke-width",1.8);
    g.append("path").attr("transform",`translate(${(L.lx0+L.lx1)/2},${cy})`).attr("d",m.d)
      .attr("fill",m.fill?col:"none").attr("stroke",col).attr("stroke-width",m.fill?0.6:1.3);
    g.append("text").attr("x",L.tx).attr("y",cy).attr("dy","0.36em").attr("font-size",22).text(name);
  });
}

drawChart({
  left:106, right:798, top:113, bottom:619, ymax:0.4, yTicks:yTicksT, yLabels:yLabelsT, yPad:10, xPad:27,
  data:[T_N0,T_N1,T_N2,T_N3,T_N4,T_N5,T_N6,T_N7,T_N8,T_N9,T_N10,T_N11,T_N12,T_N13,T_N14,T_N15,T_N16],
  title:"T vs Wavelength", titleX:476, titleY:34, titleLen:177,
  xTitleX:450, xTitleY:722, xTitleLen:185,
  yTitle:"Transmission", yTitleX:34, yTitleY:365, yTitleLen:186,
  legend:{x:843,y:5,w:125,h:749,first:27,step:44.6,lx0:850,lx1:895,tx:897}
});
drawChart({
  left:97, right:794, top:882, bottom:1399, ymax:1.8, yTicks:yTicksR, yLabels:yLabelsR, yPad:9, xPad:30,
  data:[TL_N0,TL_N1,TL_N2,TL_N3,TL_N4,TL_N5,TL_N6,TL_N7,TL_N8,TL_N9,TL_N10,TL_N11,TL_N12,TL_N13,TL_N14,TL_N15,TL_N16],
  title:"T/L ratio vs Wavelength", titleX:474, titleY:808, titleLen:262,
  xTitleX:448, xTitleY:1499, xTitleLen:190,
  yTitle:"T/L ratio", yTitleX:36, yTitleY:1139, yTitleLen:114,
  legend:{x:839,y:815,w:125,h:730,first:834,step:42.3,lx0:846,lx1:890,tx:893}
});
</script>
</body></html>
